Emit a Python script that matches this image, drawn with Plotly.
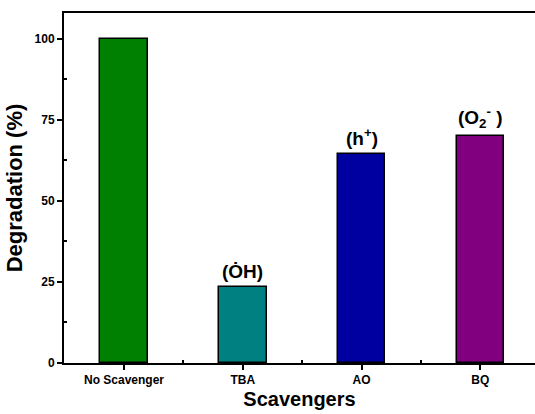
import plotly.graph_objects as go

# Scavenger trapping experiment: photocatalytic degradation with each scavenger
scavengers = ["No Scavenger", "TBA", "AO", "BQ"]
degradation = [100.0, 23.3, 64.5, 70.0]
bar_colors = ["#008000", "#008080", "#0000A0", "#800080"]
species = ["", "(ȮH)", "(h<sup>+</sup>)", "(O<sub>2</sub><sup>-</sup> )"]
y_ticks = [0, 25, 50, 75, 100]

xpos = list(range(len(scavengers)))
font_family = "Liberation Sans, Arial, sans-serif"

fig = go.Figure()
fig.add_trace(go.Bar(
    x=xpos,
    y=degradation,
    width=0.4,
    marker=dict(color=bar_colors, line=dict(color="black", width=1.5)),
    showlegend=False,
    hoverinfo="skip",
))

# reactive species trapped by each scavenger, written over its bar
for xi, yi, label in zip(xpos, degradation, species):
    if label:
        fig.add_annotation(
            x=xi, y=yi, text=f"<b>{label}</b>", showarrow=False,
            yanchor="bottom", yshift=3,
            font=dict(family=font_family, size=19, color="black"),
        )

fig.update_layout(
    width=535, height=414,
    margin=dict(l=64, r=0, t=13, b=51),
    paper_bgcolor="white", plot_bgcolor="white",
    bargap=0,
    font=dict(family=font_family, color="black"),
)

fig.update_xaxes(
    range=[-0.505, 3.46],
    tickmode="array", tickvals=xpos, ticktext=[f"<b>{s}</b>" for s in scavengers],
    tickfont=dict(size=12),
    ticks="outside", ticklen=5, tickwidth=1.5, tickcolor="black",
    minor=dict(tickmode="array", tickvals=[0.5, 1.5, 2.5], ticks="inside",
               ticklen=3, tickwidth=1.5, tickcolor="black"),
    showline=True, linewidth=2, linecolor="black", mirror=True,
    showgrid=False, zeroline=False,
    title=dict(text="<b>Scavengers</b>", font=dict(size=20), standoff=6),
)

fig.update_yaxes(
    range=[0, 108],
    tickmode="array", tickvals=y_ticks, ticktext=[f"<b>{v}</b>" for v in y_ticks],
    tickfont=dict(size=12),
    ticks="outside", ticklen=5, tickwidth=1.5, tickcolor="black",
    minor=dict(tickmode="array", tickvals=[12.5, 37.5, 62.5, 87.5], ticks="inside",
               ticklen=3, tickwidth=1.5, tickcolor="black"),
    showline=True, linewidth=2, linecolor="black", mirror=False,
    showgrid=False, zeroline=False,
    title=dict(text="<b>Degradation (%)</b>", font=dict(size=22), standoff=6),
)

fig.write_html("out.html")
